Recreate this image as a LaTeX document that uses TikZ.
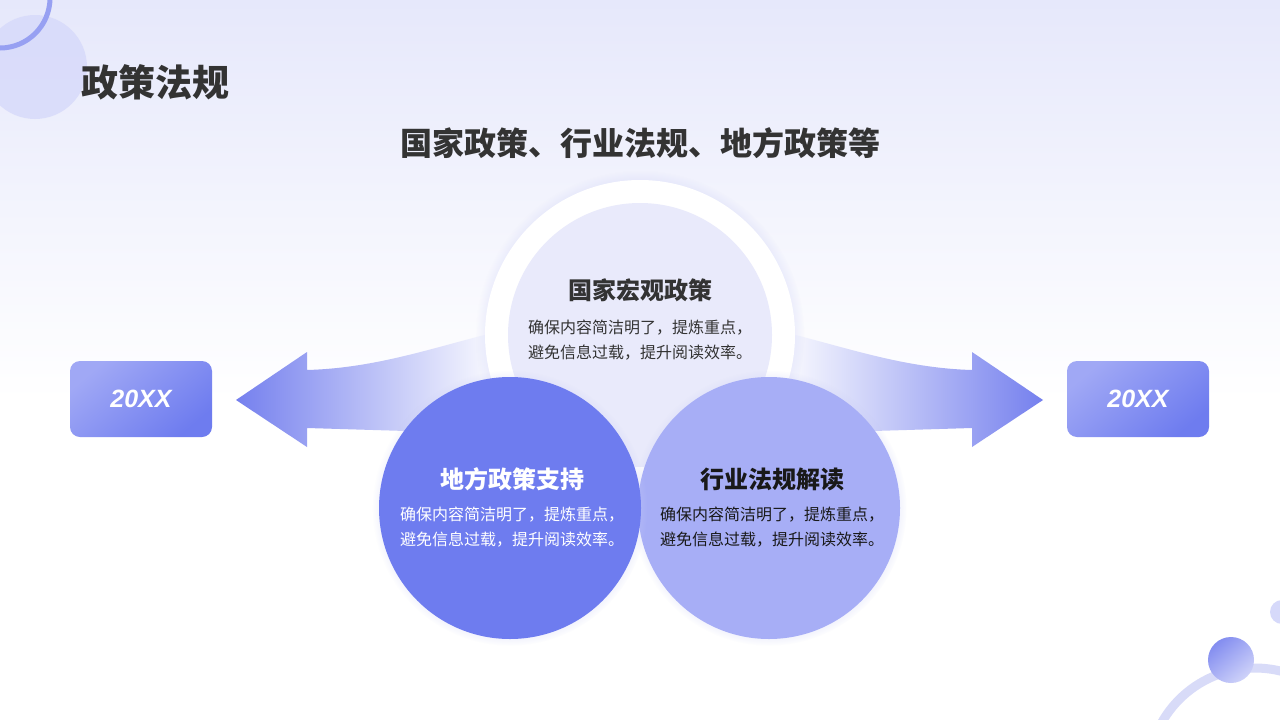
\documentclass[tikz,border=0pt]{standalone}
\usepackage{fontspec}
\setmainfont{Noto Sans CJK SC}
\newfontfamily\latinfont{Liberation Sans}
\usetikzlibrary{shadows,fadings}
\definecolor{bglav}{RGB}{230,232,251}
\definecolor{ringlav}{RGB}{233,234,251}
\definecolor{deepblue}{RGB}{110,124,239}
\definecolor{softblue}{RGB}{167,174,246}
\definecolor{arrowblue}{RGB}{117,128,238}
\definecolor{boxlight}{RGB}{160,168,245}
\definecolor{darktext}{RGB}{51,51,51}
\definecolor{decolav}{RGB}{214,217,250}
\definecolor{glowlav}{RGB}{200,204,246}

\begin{document}
\begin{tikzpicture}[x=1pt, y=-1pt,
  disc/.style={circle, inner sep=0pt, minimum size=#1},
  head/.style={font=\bfseries\fontsize{24}{28}\selectfont},
  body/.style={align=center, font=\fontsize{16}{25}\selectfont},
  yearbox/.style={rounded corners=10pt, minimum width=142pt, minimum height=76pt,
    top color=boxlight, bottom color=deepblue, shading angle=40, text=white,
    font=\latinfont\bfseries\itshape\fontsize{25}{30}\selectfont}]
 \useasboundingbox (0,0) rectangle (1280,720);
 \clip (0,0) rectangle (1280,720);
 % background
 \fill[white] (0,0) rectangle (1280,720);
 \shade[top color=bglav, bottom color=white] (0,0) rectangle (1280,400);
 % corner decorations
 \fill[decolav, opacity=0.8] (35,67) circle (52);
 \draw[arrowblue!75, line width=5pt] (0,-2) circle (50);
 \fill[decolav] (1282,612) circle (12);
 \draw[glowlav, opacity=0.7, line width=9pt] (1255,775) circle (107);
 \shade[top color=arrowblue!90, bottom color=arrowblue!35, shading angle=40] (1231,660) circle (23);
 % arrows
 \shade[left color=arrowblue, middle color=arrowblue!45!white, right color=white]
   (236,400) -- (307,352) -- (307,370) .. controls (380,368) and (440,345) .. (505,330)
   -- (505,434) -- (307,428) -- (307,447) -- cycle;
 \shade[right color=arrowblue, middle color=arrowblue!45!white, left color=white]
   (1043,400) -- (972,352) -- (972,370) .. controls (900,368) and (840,345) .. (775,330)
   -- (775,434) -- (972,428) -- (972,447) -- cycle;
 % circles
 \node[disc=310pt, fill=white, circular glow={shadow scale=1.06, fill=glowlav, opacity=0.6}] (topring) at (640,335) {};
 \node[disc=264pt, fill=ringlav] (topcircle) at (640,335) {};
 \node[disc=262pt, fill=softblue, circular glow={shadow scale=1.05, fill=glowlav, opacity=0.6}] (rightcircle) at (769,508) {};
 \node[disc=262pt, fill=deepblue, circular glow={shadow scale=1.05, fill=glowlav, opacity=0.6}] (leftcircle) at (510,508) {};
 % texts
 \node[anchor=west, text=darktext, font=\bfseries\fontsize{37}{40}\selectfont] (title) at (78,82) {政策法规};
 \node[text=darktext, font=\bfseries\fontsize{32}{36}\selectfont] (subtitle) at (640,143) {国家政策、行业法规、地方政策等};
 \node[head, text=darktext] (tophead) at (640,290) {国家宏观政策};
 \node[body, text=darktext] (topbody) at (640,340) {确保内容简洁明了，提炼重点，\\避免信息过载，提升阅读效率。};
 \node[head, text=white] (lefthead) at (512,479) {地方政策支持};
 \node[body, text=white] (leftbody) at (512,527) {确保内容简洁明了，提炼重点，\\避免信息过载，提升阅读效率。};
 \node[head, text=black!90] (righthead) at (772,479) {行业法规解读};
 \node[body, text=black!90] (rightbody) at (772,527) {确保内容简洁明了，提炼重点，\\避免信息过载，提升阅读效率。};
 % year boxes
 \node[yearbox] (leftbox) at (141,399) {20XX};
 \node[yearbox] (rightbox) at (1138,399) {20XX};
\end{tikzpicture}
\end{document}
